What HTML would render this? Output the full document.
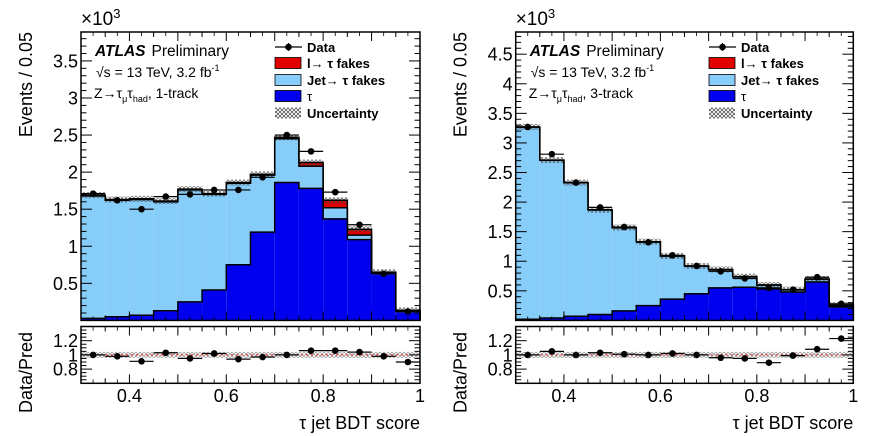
<!DOCTYPE html>
<html><head><meta charset="utf-8">
<style>
html,body{margin:0;padding:0;background:#fff;}
svg{display:block;font-family:"Liberation Sans",sans-serif;}
</style></head>
<body>
<svg id="chart" width="873" height="436" viewBox="0 0 873 436" xmlns="http://www.w3.org/2000/svg">
<defs>
<pattern id="hatch" width="4" height="4" patternUnits="userSpaceOnUse">
<path d="M0,0 L4,4 M4,0 L0,4" stroke="#444" stroke-width="0.7"/>
</pattern>
</defs>
</svg>
<script>
// bin edges: 0.30 .. 1.00 step 0.05
const binLow = [0.30,0.35,0.40,0.45,0.50,0.55,0.60,0.65,0.70,0.75,0.80,0.85,0.90,0.95];
const binWidth = 0.05;
// left: 1-track (units of 10^3 events)
const tau1 = [0.027,0.05,0.07,0.13,0.25,0.41,0.75,1.19,1.86,1.78,1.37,1.09,0.64,0.13];
const lfake1 = [0.01,0.01,0.01,0.01,0.01,0.01,0.01,0.01,0.02,0.05,0.10,0.08,0.01,0.003];
const total1 = [1.69,1.63,1.64,1.61,1.77,1.71,1.86,1.97,2.47,2.13,1.62,1.23,0.65,0.135];
const data1 = [1.71,1.62,1.50,1.67,1.70,1.76,1.76,1.93,2.50,2.28,1.73,1.29,0.63,0.12];
const ratio1 = [1.0,0.98,0.91,1.03,0.95,1.02,0.94,0.97,1.0,1.06,1.06,1.04,0.98,0.90];
// right: 3-track
const tau3 = [0.02,0.04,0.07,0.10,0.16,0.25,0.36,0.45,0.55,0.56,0.53,0.48,0.65,0.23];
const lfake3 = [0.003,0.003,0.003,0.003,0.003,0.003,0.003,0.003,0.003,0.003,0.003,0.003,0.003,0.003];
const total3 = [3.27,2.71,2.33,1.87,1.57,1.33,1.09,0.92,0.86,0.74,0.60,0.52,0.70,0.26];
const data3 = [3.27,2.81,2.33,1.91,1.58,1.32,1.10,0.92,0.83,0.71,0.55,0.52,0.73,0.28];
const ratio3 = [1.0,1.05,1.0,1.03,1.01,1.0,1.02,1.0,0.96,0.95,0.89,0.99,1.08,1.23];
const yTicks1 = [0.5,1,1.5,2,2.5,3,3.5];
const yTicks3 = [0.5,1,1.5,2,2.5,3,3.5,4,4.5];
const rTicks = [0.8,1,1.2];
const xTicks = [0.4,0.6,0.8,1];

const svg = document.getElementById('chart');
const NS = 'http://www.w3.org/2000/svg';
function mk(tag, attrs, parent, text){
  const e = document.createElementNS(NS, tag);
  for (const k in attrs) e.setAttribute(k, attrs[k]);
  if (text !== undefined) e.textContent = text;
  (parent||svg).appendChild(e);
  return e;
}
function fmt(v){ return String(v); }

function panel(cfg){
  const g = mk('g', {});
  
  
  const L = cfg.x0, R = cfg.x1, T = 32, B = 320.4;
  const sx = v => L + (v - 0.3) / 0.7 * (R - L);
  const sy = v => B - v / cfg.ymax * (B - T);
  const rT = 326.5, rB = 383.3;
  const sr = v => rB - (v - 0.6) / 0.8 * (rB - rT);
  const clipY = v => Math.max(T, sy(v));
  binLow.forEach((lo, i) => {
    const xa = sx(lo), xb = sx(lo + binWidth);
    const jetTop = cfg.total[i] - cfg.lfake[i];
    const r1 = mk('rect', {x:xa, y:clipY(jetTop), width:xb-xa, height:sy(0)-clipY(jetTop), fill:'#87cdfa'}, g);
    
    
    const r2 = mk('rect', {x:xa, y:clipY(cfg.total[i]), width:xb-xa, height:sy(jetTop)-clipY(cfg.total[i]), fill:'#e00000'}, g);
    
    
    const r3 = mk('rect', {x:xa, y:clipY(cfg.tau[i]), width:xb-xa, height:sy(0)-clipY(cfg.tau[i]), fill:'#0000ee'}, g);
    
    
    const u = mk('rect', {x:xa, y:sy(cfg.total[i])-3, width:xb-xa, height:6, fill:'url(#hatch)', opacity:0.8}, g);
    
    
  });
  function steps(arr){
    let d = '';
    binLow.forEach((lo,i) => {
      const xa = sx(lo), xb = sx(lo+binWidth), y = sy(arr[i]);
      d += (i===0 ? 'M'+xa+','+y : 'L'+xa+','+y) + ' L'+xb+','+y;
    });
    return d + ' L'+sx(1)+','+sy(0);
  }
  const jetLine = cfg.total.map((t,i)=>t-cfg.lfake[i]);
  [cfg.total, jetLine, cfg.tau].forEach((arr, k) => {
    const p = mk('path', {d:steps(arr), fill:'none', stroke:'#000', 'stroke-width':1.5}, g);
    
    
  });
  binLow.forEach((lo,i) => {
    const xc = sx(lo+binWidth/2), y = sy(cfg.data[i]);
    mk('line', {x1:sx(lo), x2:sx(lo+binWidth), y1:y, y2:y, stroke:'#000', 'stroke-width':1.2}, g);
    const c = mk('circle', {cx:xc, cy:y, r:3.3, fill:'#000'}, g);
    
    
  });
  mk('rect', {x:L, y:T, width:R-L, height:B-T, fill:'none', stroke:'#000', 'stroke-width':1.5}, g);
  for (let v = 0.1; v < cfg.ymax; v += 0.1) {
    const vv = Math.round(v*10)/10;
    const major = Math.abs(vv*2 - Math.round(vv*2)) < 1e-6;
    const len = major ? 11 : 5.5;
    mk('line', {x1:L, x2:L+len, y1:sy(vv), y2:sy(vv), stroke:'#000', 'stroke-width':1}, g);
    mk('line', {x1:R, x2:R-len, y1:sy(vv), y2:sy(vv), stroke:'#000', 'stroke-width':1}, g);
  }
  cfg.yTicks.forEach(v => {
    const t = mk('text', {x:L-3, y:sy(v)+6.5, 'text-anchor':'end', 'font-size':18}, g, fmt(v));
    
    
  });
  for (let k = 0; k <= 14; k++) {
    const v = 0.3 + k*0.05;
    const major = k % 2 === 0;
    const len = major ? 9 : 5;
    [[T,1],[B,-1],[rT,1],[rB,-1]].forEach(([y0,s]) => {
      mk('line', {x1:sx(v), x2:sx(v), y1:y0, y2:y0+s*len, stroke:'#000', 'stroke-width':1}, g);
    });
  }
  for (let k = 0; k < 14; k++) {
    const v = 0.325 + k*0.05;
    [[T,1],[B,-1],[rT,1],[rB,-1]].forEach(([y0,s]) => {
      mk('line', {x1:sx(v), x2:sx(v), y1:y0, y2:y0+s*4, stroke:'#000', 'stroke-width':0.8}, g);
    });
  }
  const xm = mk('text', {x:L, y:25, 'font-size':19}, g);
  
  
  xm.innerHTML = '×10<tspan dy="-7" font-size="13">3</tspan>';
  const yt = mk('text', {transform:'translate('+(L-49)+',32) rotate(-90)', 'text-anchor':'end', 'font-size':18}, g, 'Events / 0.05');
  
  
  const at = mk('text', {x:L+14, y:56, 'font-size':15.5}, g);
  
  
  at.innerHTML = '<tspan font-weight="bold" font-style="italic">ATLAS</tspan><tspan dx="6">Preliminary</tspan>';
  const en = mk('text', {x:L+15, y:77, 'font-size':14}, g);
  
  
  en.innerHTML = '√s = 13 TeV, 3.2 fb<tspan dy="-6" font-size="9">-1</tspan>';
  const ch = mk('text', {x:L+13, y:98, 'font-size':14}, g);
  
  
  ch.innerHTML = 'Z→τ<tspan dy="4" font-size="9">μ</tspan><tspan dy="-4">τ</tspan><tspan dy="4" font-size="9">had</tspan><tspan dy="-4">, '+cfg.track+'</tspan>';
  const lx = cfg.legX, ly = [47,63,80,96,113];
  const lg = mk('g', {}, g);
  
  
  mk('line', {x1:lx, x2:lx+27, y1:ly[0], y2:ly[0], stroke:'#000', 'stroke-width':1.2}, lg);
  mk('line', {x1:lx+13.5, x2:lx+13.5, y1:ly[0]-4, y2:ly[0]+4, stroke:'#000', 'stroke-width':1.2}, lg);
  mk('circle', {cx:lx+13.5, cy:ly[0], r:3.3, fill:'#000'}, lg);
  [['#e00000',1],['#87cdfa',2],['#0000ee',3],['url(#hatch)',4]].forEach(([f,k]) => {
    mk('rect', {x:lx, y:ly[k]-5.5, width:26, height:11, fill:f, stroke: k<4?'#000':'none', 'stroke-width':0.8}, lg);
  });
  const labels = ['Data','l→ τ fakes','Jet→ τ fakes','τ','Uncertainty'];
  labels.forEach((s,k) => {
    const t = mk('text', {x:lx+32, y:ly[k]+5, 'font-size':13, 'font-weight': k===3?'normal':'bold'}, lg, s);
    
    
  });
  const rg = mk('g', {}, g);
  
  
  mk('rect', {x:L, y:sr(1)-3, width:R-L, height:6, fill:'url(#hatch)', opacity:0.6}, rg);
  mk('line', {x1:L, x2:R, y1:sr(1), y2:sr(1), stroke:'#e33', 'stroke-width':1.2, 'stroke-dasharray':'2,3'}, rg);
  binLow.forEach((lo,i) => {
    const y = sr(cfg.ratio[i]);
    mk('line', {x1:sx(lo), x2:sx(lo+binWidth), y1:y, y2:y, stroke:'#000', 'stroke-width':1.2}, rg);
    const c = mk('circle', {cx:sx(lo+binWidth/2), cy:y, r:3.3, fill:'#000'}, rg);
    
    
  });
  mk('rect', {x:L, y:rT, width:R-L, height:rB-rT, fill:'none', stroke:'#000', 'stroke-width':1.5}, rg);
  for (let k = 1; k < 16; k++) {
    const v = 0.6 + k*0.05;
    const major = k % 4 === 0;
    const len = major ? 11 : 5.5;
    mk('line', {x1:L, x2:L+len, y1:sr(v), y2:sr(v), stroke:'#000', 'stroke-width':1}, rg);
    mk('line', {x1:R, x2:R-len, y1:sr(v), y2:sr(v), stroke:'#000', 'stroke-width':1}, rg);
  }
  rTicks.forEach(v => {
    const t = mk('text', {x:L-3, y:sr(v)+6.5, 'text-anchor':'end', 'font-size':18}, rg, fmt(v));
    
    
  });
  xTicks.forEach(v => {
    const t = mk('text', {x:sx(v), y:402, 'text-anchor':'middle', 'font-size':18}, rg, fmt(v));
    
    
  });
  const rt = mk('text', {transform:'translate('+(L-49)+',413) rotate(-90)', 'font-size':18}, rg, 'Data/Pred');
  
  
  const xt = mk('text', {x:R, y:429, 'text-anchor':'end', 'font-size':18}, rg, 'τ jet BDT score');
  
  
}

panel({name:'left-panel-1track', x0:81, x1:420, ymax:3.89, tau:tau1, lfake:lfake1, total:total1, data:data1, ratio:ratio1, yTicks:yTicks1, track:'1-track', legX:275});
panel({name:'right-panel-3track', x0:515.7, x1:853.3, ymax:4.875, tau:tau3, lfake:lfake3, total:total3, data:data3, ratio:ratio3, yTicks:yTicks3, track:'3-track', legX:709});
</script>
</body></html>
